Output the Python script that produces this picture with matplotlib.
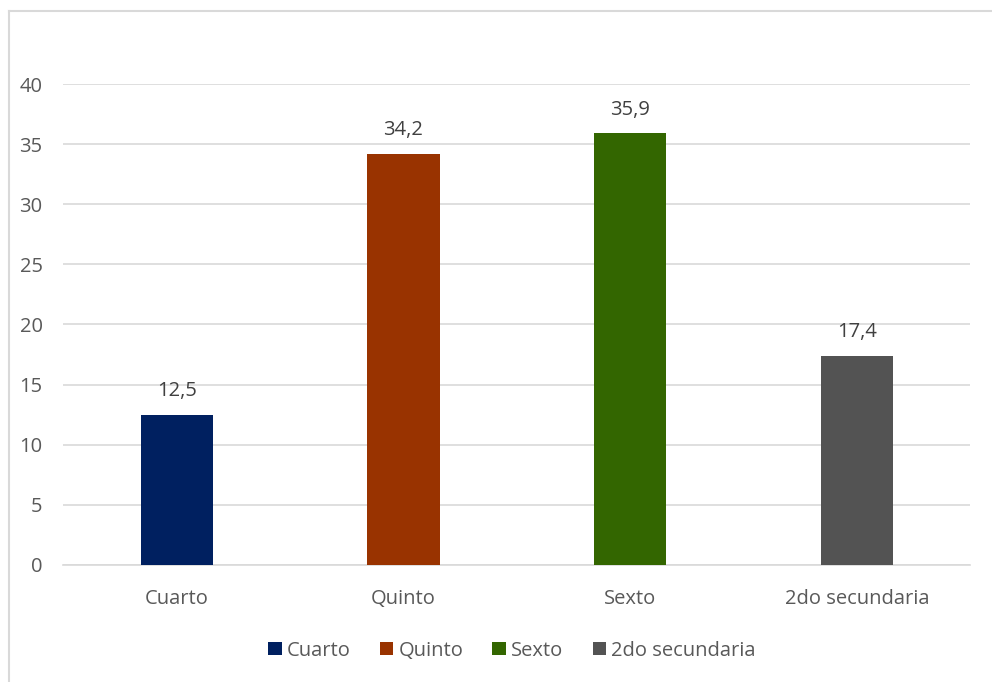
import matplotlib
matplotlib.use("Agg")
import matplotlib.pyplot as plt
from matplotlib.patches import Patch
from matplotlib.lines import Line2D

categories = ["Cuarto", "Quinto", "Sexto", "2do secundaria"]
values = [12.5, 34.2, 35.9, 17.4]
colors = ["#002060", "#993300", "#336600", "#535353"]
yticks = [0, 5, 10, 15, 20, 25, 30, 35, 40]

plt.rcParams['font.family'] = ['Open Sans', 'DejaVu Sans']
txt = "#595959"
fs = 14.5

fig = plt.figure(figsize=(9.92, 6.82), dpi=100)
ax = fig.add_axes([0.064, 0.1716, 0.914, 0.7052])

x = list(range(len(categories)))
ax.bar(x, values, width=0.318, color=colors, zorder=3)
for xi, v in zip(x, values):
    ax.annotate(f"{v:.1f}".replace(".", ","), (xi, v), xytext=(0, 17),
                textcoords="offset points", ha="center", va="center",
                fontsize=fs, color="#404040")

ax.set_xlim(-0.5, len(categories) - 0.5)
ax.set_ylim(0, 40)
ax.set_yticks(yticks)
ax.set_yticklabels([str(t) for t in yticks])
ax.set_xticks(x)
ax.set_xticklabels(categories)
ax.yaxis.grid(True, color="#d9d9d9", linewidth=1.2, zorder=0)
ax.set_axisbelow(True)
for s in ["top", "right", "left"]:
    ax.spines[s].set_visible(False)
ax.spines["bottom"].set_color("#d9d9d9")
ax.spines["bottom"].set_linewidth(1.2)
ax.tick_params(axis="both", length=0, labelsize=fs, labelcolor=txt)
ax.tick_params(axis="y", pad=15)
ax.tick_params(axis="x", pad=17)

handles = [Patch(facecolor=c, edgecolor="none") for c in colors]
fig.legend(handles, categories, loc="center", bbox_to_anchor=(0.516, 0.046),
           ncol=4, frameon=False, fontsize=fs, labelcolor=txt,
           handlelength=0.68, handleheight=0.68, handletextpad=0.25,
           columnspacing=1.45)

# outer chart border (top and left visible)
fig.add_artist(Line2D([9/992, 1.0], [1 - 10.5/682, 1 - 10.5/682],
                      transform=fig.transFigure, color="#d9d9d9", linewidth=1.5))
fig.add_artist(Line2D([9/992, 9/992], [0.0, 1 - 10.5/682],
                      transform=fig.transFigure, color="#d9d9d9", linewidth=1.5))

fig.savefig("out.png", dpi=100)
